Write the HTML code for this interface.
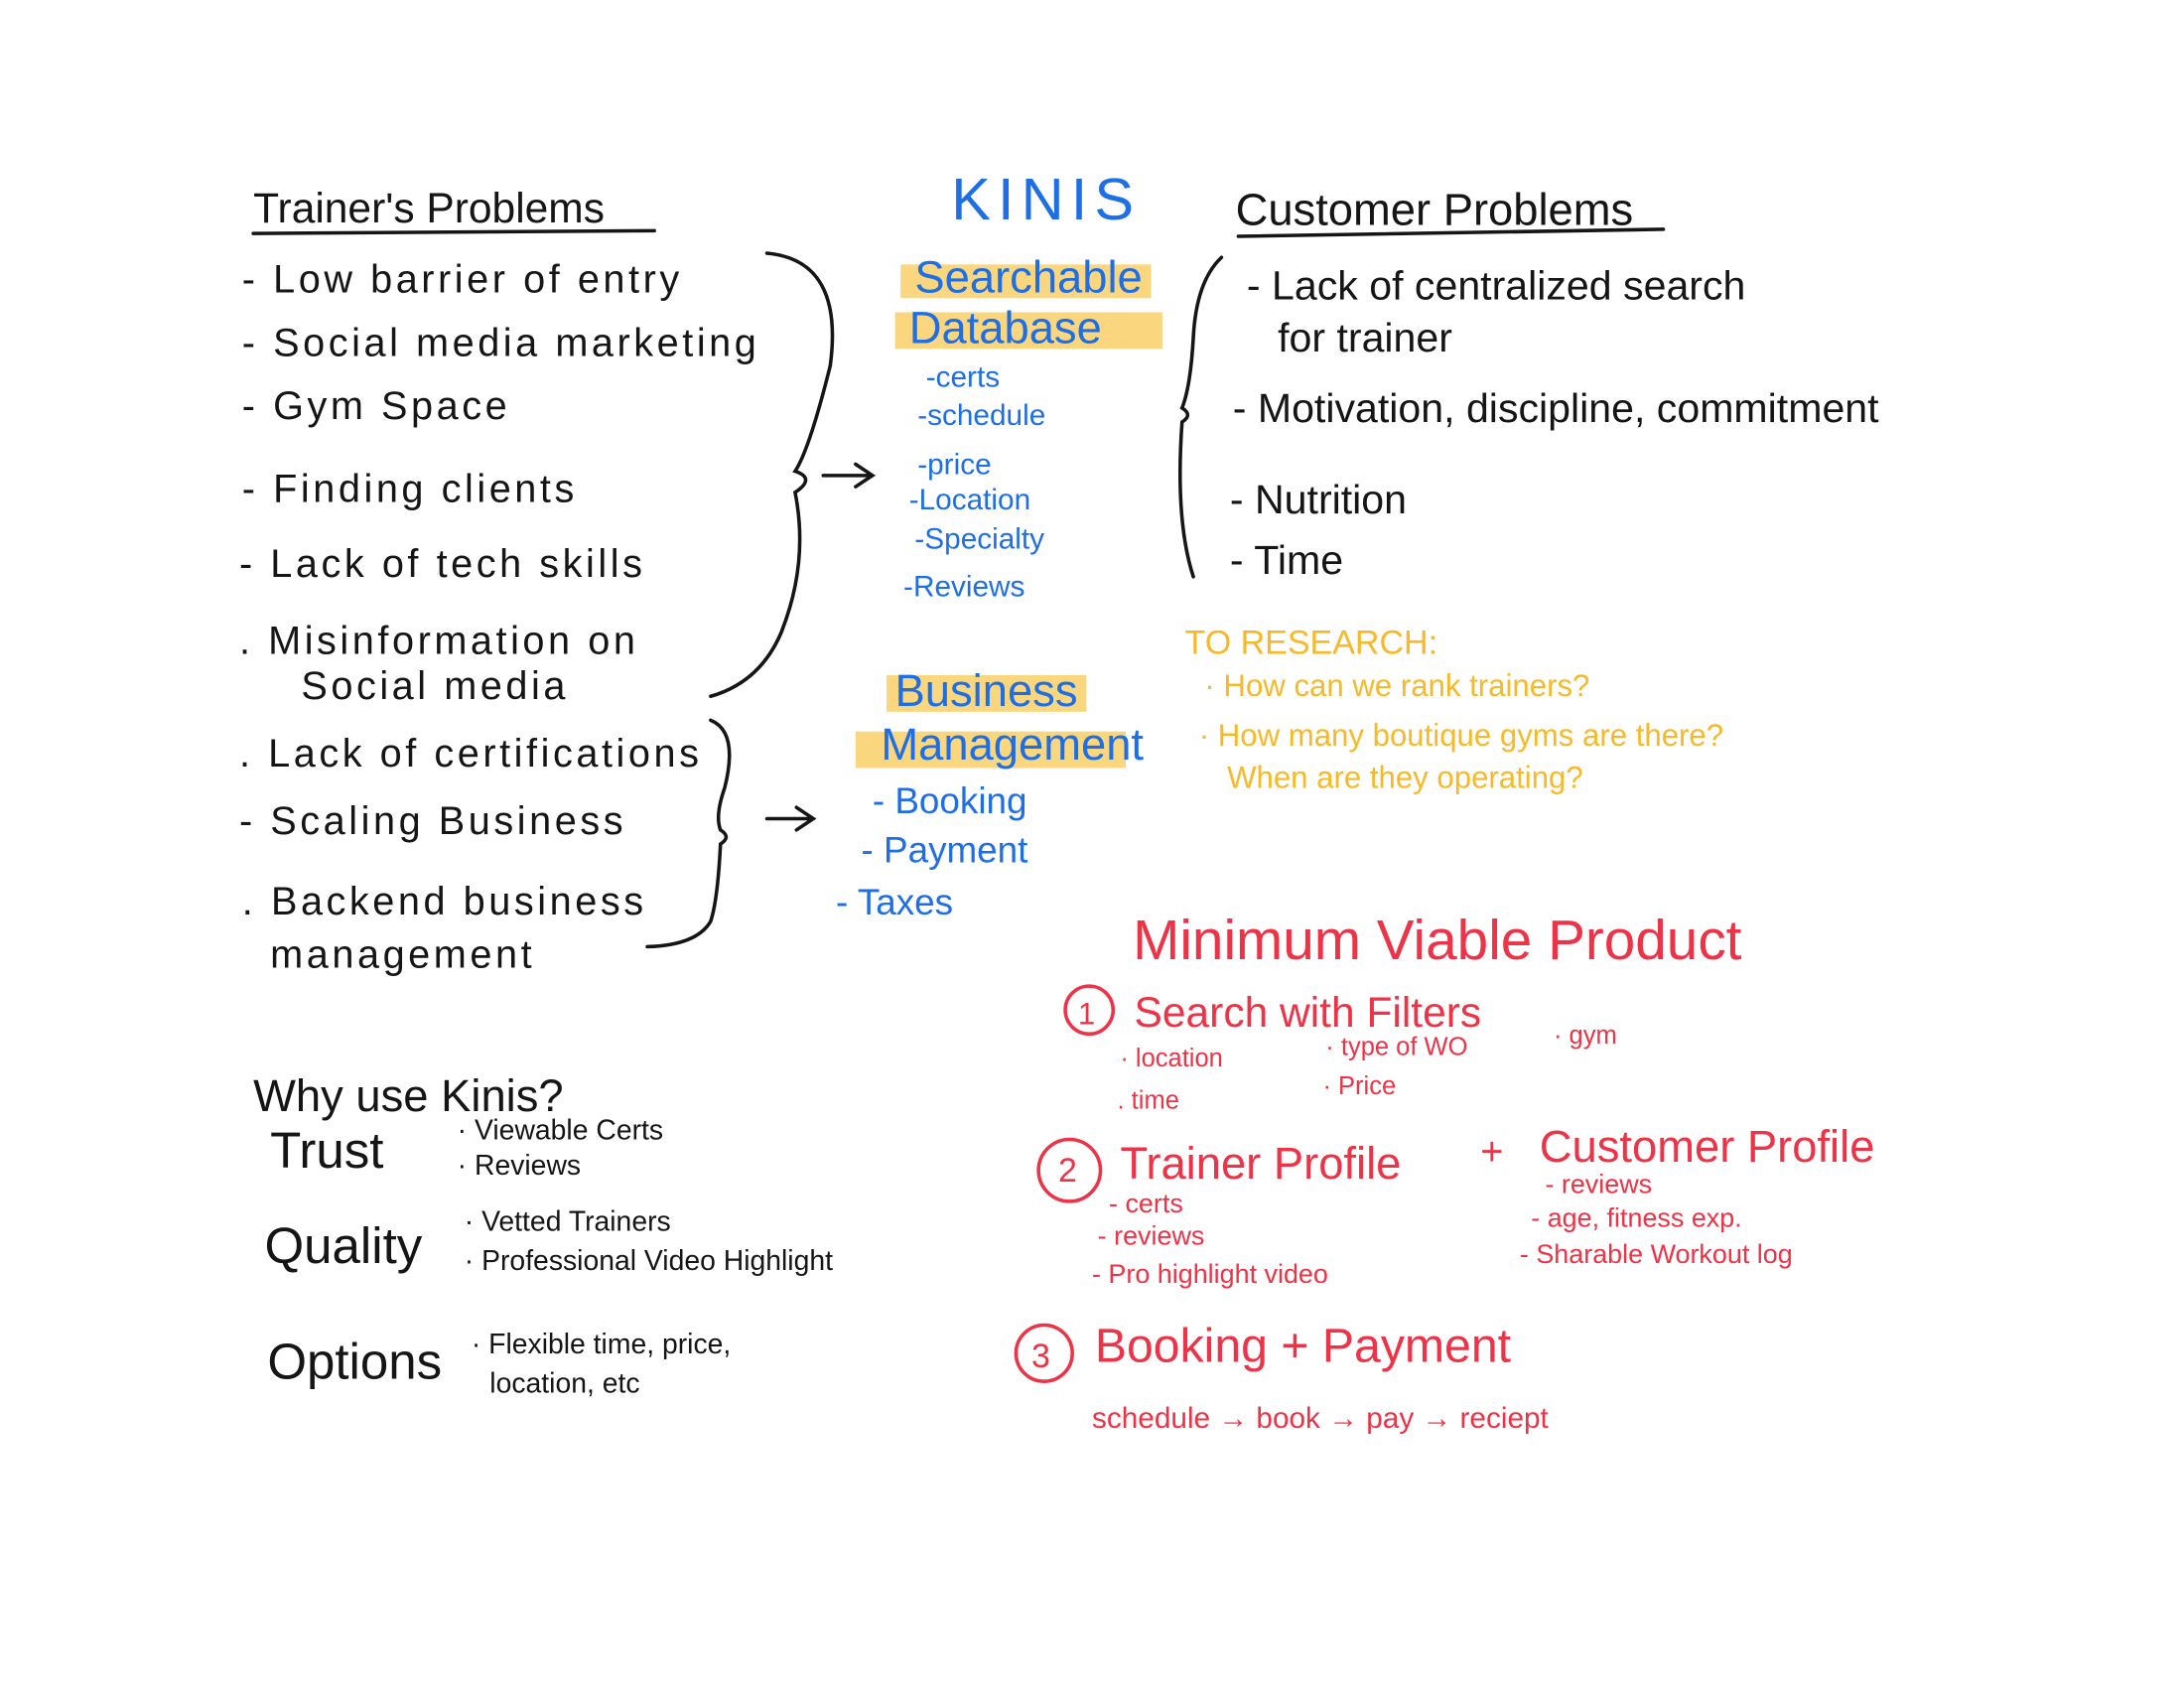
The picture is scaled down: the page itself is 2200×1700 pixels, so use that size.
<!DOCTYPE html>
<html><head><meta charset="utf-8"><style>
html,body{margin:0;padding:0;background:#fff;}
svg{display:block;}
text{font-family:"Liberation Sans",sans-serif;}
.k{fill:#151515;}
.b{fill:#1e6fe6;}
.y{fill:#f7b928;}
.r{fill:#ec3347;}
</style></head><body>
<svg width="2200" height="1700" viewBox="0 0 1552 1200" preserveAspectRatio="none" xmlns="http://www.w3.org/2000/svg">
<rect width="1552" height="1200" fill="#fff"/>
<g class="k" font-size="28">
<text x="180" y="158" font-size="30">Trainer's Problems</text>
<g letter-spacing="2.5">
<text x="172" y="208">- Low barrier of entry</text>
<text x="172" y="253">- Social media marketing</text>
<text x="172" y="298">- Gym Space</text>
<text x="172" y="357">- Finding clients</text>
<text x="170" y="410">- Lack of tech skills</text>
<text x="170" y="465">. Misinformation on</text>
<text x="214" y="497">Social media</text>
<text x="170" y="545">. Lack of certifications</text>
<text x="170" y="593">- Scaling Business</text>
<text x="172" y="650">. Backend business</text>
<text x="192" y="688">management</text>
</g>
</g>
<g fill="none" stroke="#151515" stroke-width="2.5" stroke-linecap="round">
<path d="M180 166 L465 164"/>
<path d="M545 180 Q600 185 590 260 Q575 320 565 335 Q580 340 565 350 Q575 400 555 450 Q540 485 505 495"/>
<path d="M585 338 L620 338 M608 330 L620 338 L608 346"/>
<path d="M505 512 Q525 520 515 560 Q508 580 512 590 Q520 595 512 600 Q510 640 505 655 Q495 672 460 673"/>
<path d="M545 582 L578 582 M566 574 L578 582 L566 590"/>
<path d="M880 168 L1182 163"/>
<path d="M868 183 Q850 200 848 240 Q846 275 840 290 Q848 295 840 300 Q835 370 848 410"/>
</g>
<g class="k">
<text x="180" y="790" font-size="32">Why use Kinis?</text>
<text x="192" y="830" font-size="36">Trust</text>
<text x="325" y="810" font-size="20">· Viewable Certs</text>
<text x="325" y="835" font-size="20">· Reviews</text>
<text x="188" y="898" font-size="36">Quality</text>
<text x="330" y="875" font-size="20">· Vetted Trainers</text>
<text x="330" y="903" font-size="20">· Professional Video Highlight</text>
<text x="190" y="980" font-size="36">Options</text>
<text x="335" y="962" font-size="20">· Flexible time, price,</text>
<text x="348" y="990" font-size="20">location, etc</text>
</g>
<text x="676" y="156" font-size="42" class="b" letter-spacing="5">KINIS</text>
<g fill="#fad77f">
<rect x="640" y="188" width="178" height="24"/>
<rect x="636" y="222" width="190" height="26"/>
<rect x="630" y="480" width="142" height="26"/>
<rect x="608" y="520" width="192" height="26"/>
</g>
<g class="b">
<text x="650" y="208" font-size="32">Searchable</text>
<text x="646" y="244" font-size="32">Database</text>
<g font-size="21">
<text x="658" y="275">-certs</text>
<text x="652" y="302">-schedule</text>
<text x="652" y="337">-price</text>
<text x="646" y="362">-Location</text>
<text x="650" y="390">-Specialty</text>
<text x="642" y="424">-Reviews</text>
</g>
<text x="636" y="502" font-size="32">Business</text>
<text x="626" y="540" font-size="32">Management</text>
<g font-size="26">
<text x="620" y="578">- Booking</text>
<text x="612" y="613">- Payment</text>
<text x="594" y="650">- Taxes</text>
</g>
</g>
<g class="k" font-size="29">
<text x="878" y="160" font-size="32">Customer Problems</text>
<text x="886" y="213">- Lack of centralized search</text>
<text x="908" y="250">for trainer</text>
<text x="876" y="300">- Motivation, discipline, commitment</text>
<text x="874" y="365">- Nutrition</text>
<text x="874" y="408">- Time</text>
</g>
<g class="y">
<text x="842" y="465" font-size="24">TO RESEARCH:</text>
<text x="856" y="495" font-size="22">· How can we rank trainers?</text>
<text x="852" y="530" font-size="22">· How many boutique gyms are there?</text>
<text x="872" y="560" font-size="22">When are they operating?</text>
</g>
<g class="r">
<text x="805" y="682" font-size="40">Minimum Viable Product</text>
<text x="766" y="728" font-size="22">1</text>
<text x="806" y="730" font-size="30">Search with Filters</text>
<g font-size="18">
<text x="796" y="758">· location</text>
<text x="942" y="750">· type of WO</text>
<text x="1104" y="742">· gym</text>
<text x="794" y="788">. time</text>
<text x="940" y="778">· Price</text>
</g>
<text x="752" y="840" font-size="24">2</text>
<text x="796" y="838" font-size="32">Trainer Profile</text>
<text x="1052" y="828" font-size="28">+</text>
<text x="1094" y="826" font-size="32">Customer Profile</text>
<g font-size="19">
<text x="788" y="862">- certs</text>
<text x="780" y="885">- reviews</text>
<text x="776" y="912">- Pro highlight video</text>
<text x="1098" y="848">- reviews</text>
<text x="1088" y="872">- age, fitness exp.</text>
<text x="1080" y="898">- Sharable Workout log</text>
</g>
<text x="733" y="972" font-size="24">3</text>
<text x="778" y="968" font-size="34">Booking + Payment</text>
<text x="776" y="1015" font-size="21">schedule → book → pay → reciept</text>
</g>
<g fill="none" stroke="#ec3347" stroke-width="2.5">
<circle cx="774" cy="718" r="17"/>
<circle cx="760" cy="832" r="22"/>
<circle cx="742" cy="962" r="20"/>
</g>
</svg>
</body></html>
